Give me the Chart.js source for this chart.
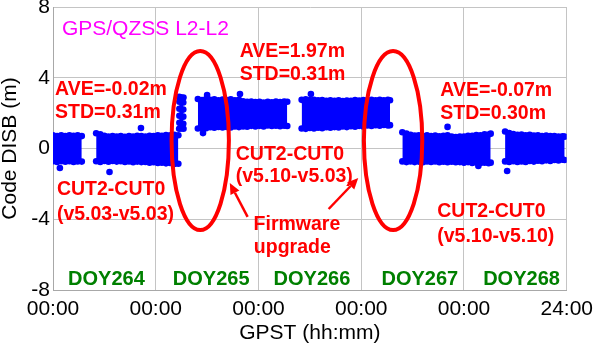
<!DOCTYPE html>
<html>
<head>
<meta charset="utf-8">
<script src="https://cdn.jsdelivr.net/npm/chart.js@4/dist/chart.umd.min.js"></script>
<style>
  html, body { margin: 0; padding: 0; background: #fff; }
</style>
</head>
<body>
<canvas id="disbcanvas" width="600" height="346"></canvas>
<script>
// time in days from DOY264 00:00, [t, upper edge, lower edge] of each scatter band (m)
var seg264a = [
  [0.00, 0.74, -0.72], [0.04, 0.70, -0.76], [0.08, 0.74, -0.72], [0.12, 0.71, -0.75],
  [0.16, 0.74, -0.72], [0.20, 0.72, -0.76], [0.24, 0.75, -0.73], [0.28, 0.70, -0.74]
];
var seg264b = [
  [0.42, 0.86, -0.72], [0.46, 0.80, -0.76], [0.50, 0.72, -0.71], [0.54, 0.68, -0.75],
  [0.58, 0.71, -0.70], [0.62, 0.67, -0.74], [0.66, 0.70, -0.72], [0.70, 0.66, -0.76],
  [0.74, 0.70, -0.73], [0.78, 0.68, -0.78], [0.82, 0.72, -0.74], [0.86, 0.70, -0.77],
  [0.90, 0.68, -0.76], [0.94, 0.72, -0.80], [0.98, 0.70, -0.78], [1.02, 0.74, -0.82],
  [1.06, 0.72, -0.80], [1.10, 0.76, -0.84], [1.14, 0.74, -0.82], [1.18, 0.77, -0.88],
  [1.22, 0.75, -0.86]
];
var seg265a = [
  [1.228, 2.92, 1.12], [1.24, 2.90, 1.15], [1.255, 2.86, 1.14], [1.27, 2.88, 1.12]
];
var seg265b = [
  [1.41, 2.80, 1.13], [1.45, 2.74, 1.16], [1.49, 2.80, 1.15], [1.53, 2.76, 1.20],
  [1.57, 2.78, 1.17], [1.61, 2.73, 1.22], [1.65, 2.77, 1.19], [1.69, 2.74, 1.22],
  [1.73, 2.78, 1.19], [1.77, 2.72, 1.24], [1.81, 2.75, 1.21], [1.85, 2.67, 1.24],
  [1.89, 2.64, 1.23], [1.93, 2.66, 1.28], [1.97, 2.62, 1.25], [2.01, 2.64, 1.28],
  [2.05, 2.60, 1.25], [2.09, 2.64, 1.30], [2.13, 2.61, 1.27], [2.17, 2.66, 1.29],
  [2.21, 2.63, 1.26], [2.25, 2.66, 1.29], [2.28, 2.64, 1.27]
];
var seg266 = [
  [2.42, 2.75, 1.13], [2.46, 2.78, 1.11], [2.50, 2.74, 1.16], [2.54, 2.76, 1.13],
  [2.58, 2.72, 1.18], [2.62, 2.74, 1.15], [2.66, 2.70, 1.20], [2.70, 2.73, 1.17],
  [2.74, 2.70, 1.21], [2.78, 2.72, 1.19], [2.82, 2.68, 1.24], [2.86, 2.71, 1.21],
  [2.90, 2.69, 1.26], [2.94, 2.74, 1.23], [2.98, 2.71, 1.28], [3.02, 2.74, 1.25],
  [3.06, 2.72, 1.30], [3.10, 2.75, 1.27], [3.14, 2.72, 1.32], [3.18, 2.76, 1.29],
  [3.22, 2.73, 1.33], [3.26, 2.76, 1.30], [3.28, 2.73, 1.32]
];
var seg267 = [
  [3.40, 0.92, -0.73], [3.44, 0.84, -0.77], [3.48, 0.78, -0.73], [3.52, 0.73, -0.77],
  [3.56, 0.75, -0.74], [3.60, 0.71, -0.78], [3.64, 0.74, -0.73], [3.68, 0.71, -0.76],
  [3.72, 0.73, -0.73], [3.76, 0.69, -0.78], [3.80, 0.72, -0.75], [3.84, 0.74, -0.78],
  [3.88, 0.68, -0.75], [3.92, 0.65, -0.78], [3.96, 0.68, -0.77], [4.00, 0.68, -0.80],
  [4.04, 0.72, -0.77], [4.08, 0.72, -0.82], [4.12, 0.76, -0.79], [4.16, 0.75, -0.82],
  [4.20, 0.80, -0.80], [4.24, 0.79, -0.83], [4.26, 0.84, -0.80]
];
var seg268 = [
  [4.40, 0.96, -0.73], [4.44, 0.88, -0.76], [4.48, 0.82, -0.72], [4.52, 0.77, -0.76],
  [4.56, 0.79, -0.73], [4.60, 0.75, -0.76], [4.64, 0.77, -0.71], [4.68, 0.73, -0.74],
  [4.72, 0.75, -0.69], [4.76, 0.71, -0.72], [4.80, 0.73, -0.67], [4.84, 0.70, -0.70],
  [4.88, 0.71, -0.65], [4.92, 0.68, -0.68], [4.96, 0.69, -0.63], [4.98, 0.67, -0.65]
];
// single points sticking out of the bands (and the edges of the short DOY265 burst)
var strays = [
  [0.067, -1.10], [0.55, -1.33], [0.856, 1.16], [1.46, 0.87], [1.50, 3.02],
  [1.82, 3.08], [2.51, 3.08], [3.84, 1.22], [4.14, -0.99], [4.42, -1.27],
  [1.230, 1.45], [1.230, 1.85], [1.230, 2.25], [1.230, 2.65],
  [1.268, 1.40], [1.268, 1.80], [1.268, 2.20], [1.268, 2.60]
];

var xTickLabels = ['00:00', '00:00', '00:00', '00:00', '00:00', '24:00'];
var yTicks = [-8, -4, 0, 4, 8];
var dayNames = ['DOY264', 'DOY265', 'DOY266', 'DOY267', 'DOY268'];

var blue = 'rgb(0,0,255)';
var font = "'Liberation Sans', Arial, sans-serif";

var segments = [seg264a, seg264b, seg265a, seg265b, seg266, seg267, seg268];
var datasets = [];
segments.forEach(function(seg) {
  datasets.push({
    data: seg.map(function(r) { return { x: r[0], y: r[1] }; }),
    borderColor: blue, borderWidth: 2, backgroundColor: blue, fill: '+1',
    pointRadius: 3.3, pointBorderWidth: 0, pointBackgroundColor: blue
  });
  datasets.push({
    data: seg.map(function(r) { return { x: r[0], y: r[2] }; }),
    borderColor: blue, borderWidth: 2, backgroundColor: blue, fill: false,
    pointRadius: 3.3, pointBorderWidth: 0, pointBackgroundColor: blue
  });
});
datasets.push({
  data: strays.map(function(r) { return { x: r[0], y: r[1] }; }),
  showLine: false, pointRadius: 3.3, pointBorderWidth: 0, pointBackgroundColor: blue
});

// text / ellipse / arrow annotations, placed in data units
var rings = [
  { t: 1.433, v: 0.45, dt: 0.279, dv: 5.06 },
  { t: 3.310, v: 0.45, dt: 0.284, dv: 5.06 }
];
var redNotes = [
  ['AVE=-0.02m', 0.02, 3.02], ['STD=0.31m', 0.02, 1.72],
  ['AVE=1.97m', 1.817, 5.17], ['STD=0.31m', 1.817, 3.87],
  ['AVE=-0.07m', 3.77, 2.97], ['STD=0.30m', 3.77, 1.67],
  ['CUT2-CUT0', 0.038, -2.63], ['(v5.03-v5.03)', 0.038, -4.04],
  ['CUT2-CUT0', 1.779, -0.65], ['(v5.10-v5.03)', 1.779, -1.89],
  ['Firmware', 1.952, -4.60], ['upgrade', 1.955, -5.90],
  ['CUT2-CUT0', 3.74, -3.87], ['(v5.10-v5.10)', 3.74, -5.28]
];
var arrows = [
  [1.894, -3.87, 1.721, -1.95],
  [2.683, -3.42, 2.971, -1.67]
];
var dayPos = [0.52, 1.54, 2.52, 3.57, 4.56];

var notes = {
  id: 'notes',
  afterDatasetsDraw: function(chart) {
    var ctx = chart.ctx, xs = chart.scales.x, ys = chart.scales.y;
    function px(t) { return xs.getPixelForValue(t); }
    function py(v) { return ys.getPixelForValue(v); }
    ctx.save();

    ctx.fillStyle = '#ff00ff';
    ctx.font = '21px ' + font;
    ctx.textAlign = 'left';
    ctx.textBaseline = 'alphabetic';
    ctx.fillText('GPS/QZSS L2-L2', px(0.087), py(6.41));

    ctx.strokeStyle = '#ff0000';
    ctx.lineWidth = 4;
    rings.forEach(function(r) {
      ctx.beginPath();
      ctx.ellipse(px(r.t), py(r.v), px(r.t + r.dt) - px(r.t), py(r.v - r.dv) - py(r.v), 0, 0, Math.PI * 2);
      ctx.stroke();
    });

    ctx.fillStyle = '#ff0000';
    ctx.font = 'bold 19.5px ' + font;
    redNotes.forEach(function(n) {
      ctx.fillText(n[0], px(n[1]), py(n[2]));
    });

    ctx.lineWidth = 2.5;
    arrows.forEach(function(a) {
      var x0 = px(a[0]), y0 = py(a[1]), x1 = px(a[2]), y1 = py(a[3]);
      var ang = Math.atan2(y1 - y0, x1 - x0), hl = 11, hw = 5;
      var bx = x1 - hl * Math.cos(ang), by = y1 - hl * Math.sin(ang);
      ctx.beginPath();
      ctx.moveTo(x0, y0);
      ctx.lineTo(bx, by);
      ctx.stroke();
      ctx.beginPath();
      ctx.moveTo(x1, y1);
      ctx.lineTo(bx + hw * Math.sin(ang), by - hw * Math.cos(ang));
      ctx.lineTo(bx - hw * Math.sin(ang), by + hw * Math.cos(ang));
      ctx.closePath();
      ctx.fill();
    });

    ctx.fillStyle = '#008000';
    ctx.font = 'bold 20px ' + font;
    ctx.textAlign = 'center';
    dayNames.forEach(function(d, i) {
      ctx.fillText(d, px(dayPos[i]), py(-7.71));
    });
    ctx.restore();
  }
};

new Chart(document.getElementById('disbcanvas'), {
  type: 'line',
  data: { datasets: datasets },
  plugins: [notes],
  options: {
    responsive: false,
    animation: false,
    events: [],
    layout: { padding: { top: 7, right: 27, left: 0, bottom: 0 } },
    plugins: { legend: { display: false }, tooltip: { enabled: false } },
    elements: { line: { tension: 0 } },
    scales: {
      x: {
        type: 'linear', min: 0, max: 5,
        afterBuildTicks: function(s) {
          s.ticks = xTickLabels.map(function(l, i) { return { value: i }; });
        },
        afterFit: function(s) { s.height = 56; },
        ticks: {
          color: '#000', font: { family: font, size: 21 }, padding: 7,
          maxRotation: 0, autoSkip: false,
          callback: function(v, i) { return xTickLabels[i]; }
        },
        grid: { color: '#c4c4c4', drawTicks: false },
        border: { color: '#a8a8a8' },
        title: {
          display: true, text: 'GPST (hh:mm)', color: '#000',
          font: { family: font, size: 21 }, padding: { top: 0, bottom: 0 }
        }
      },
      y: {
        min: -8, max: 8,
        afterBuildTicks: function(s) {
          s.ticks = yTicks.map(function(v) { return { value: v }; });
        },
        afterFit: function(s) { s.width = 53; s.paddingTop = 0; s.paddingBottom = 0; },
        ticks: { color: '#000', font: { family: font, size: 21 }, padding: 3 },
        grid: { color: '#c4c4c4', drawTicks: false },
        border: { color: '#a8a8a8' },
        title: {
          display: true, text: 'Code DISB (m)', color: '#000',
          font: { family: font, size: 21, lineHeight: 1 }, padding: 0
        }
      }
    }
  }
});
</script>
</body>
</html>
